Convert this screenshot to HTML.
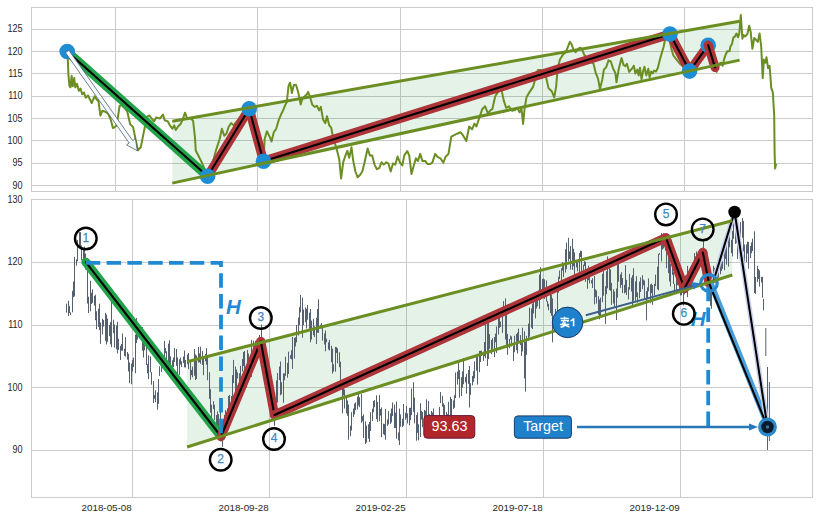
<!DOCTYPE html><html><head><meta charset="utf-8"><style>html,body{margin:0;padding:0;background:#fff;}body{width:819px;height:520px;overflow:hidden;position:relative;font-family:"Liberation Sans",sans-serif;}svg text{font-family:"Liberation Sans",sans-serif;}</style></head><body><svg width="819" height="520" viewBox="0 0 819 520" style="position:absolute;left:0;top:0">
<defs><clipPath id="ct"><rect x="31.5" y="7.3" width="781" height="184"/></clipPath><clipPath id="cb"><rect x="31.5" y="199.5" width="781" height="297.8"/></clipPath></defs>
<rect x="0" y="0" width="819" height="520" fill="#ffffff"/>
<line x1="31" y1="29.5" x2="813" y2="29.5" stroke="#cbcbcb" stroke-width="1"/>
<text transform="translate(22.6,32.4) scale(0.92,1.04)" text-anchor="end" font-size="9.8" fill="#262626">125</text>
<line x1="31" y1="51.5" x2="813" y2="51.5" stroke="#cbcbcb" stroke-width="1"/>
<text transform="translate(22.6,54.7) scale(0.92,1.04)" text-anchor="end" font-size="9.8" fill="#262626">120</text>
<line x1="31" y1="73.5" x2="813" y2="73.5" stroke="#cbcbcb" stroke-width="1"/>
<text transform="translate(22.6,77.0) scale(0.92,1.04)" text-anchor="end" font-size="9.8" fill="#262626">115</text>
<line x1="31" y1="96.5" x2="813" y2="96.5" stroke="#cbcbcb" stroke-width="1"/>
<text transform="translate(22.6,99.3) scale(0.92,1.04)" text-anchor="end" font-size="9.8" fill="#262626">110</text>
<line x1="31" y1="118.5" x2="813" y2="118.5" stroke="#cbcbcb" stroke-width="1"/>
<text transform="translate(22.6,121.7) scale(0.92,1.04)" text-anchor="end" font-size="9.8" fill="#262626">105</text>
<line x1="31" y1="140.5" x2="813" y2="140.5" stroke="#cbcbcb" stroke-width="1"/>
<text transform="translate(22.6,144.0) scale(0.92,1.04)" text-anchor="end" font-size="9.8" fill="#262626">100</text>
<line x1="31" y1="163.5" x2="813" y2="163.5" stroke="#cbcbcb" stroke-width="1"/>
<text transform="translate(22.6,166.3) scale(0.92,1.04)" text-anchor="end" font-size="9.8" fill="#262626">95</text>
<line x1="31" y1="185.5" x2="813" y2="185.5" stroke="#cbcbcb" stroke-width="1"/>
<text transform="translate(22.6,188.6) scale(0.92,1.04)" text-anchor="end" font-size="9.8" fill="#262626">90</text>
<line x1="115.5" y1="7" x2="115.5" y2="192" stroke="#cbcbcb" stroke-width="1"/>
<line x1="257.5" y1="7" x2="257.5" y2="192" stroke="#cbcbcb" stroke-width="1"/>
<line x1="400.5" y1="7" x2="400.5" y2="192" stroke="#cbcbcb" stroke-width="1"/>
<line x1="542.5" y1="7" x2="542.5" y2="192" stroke="#cbcbcb" stroke-width="1"/>
<line x1="684.5" y1="7" x2="684.5" y2="192" stroke="#cbcbcb" stroke-width="1"/>
<rect x="31.5" y="7.5" width="781" height="184" fill="none" stroke="#cbcbcb" stroke-width="1"/>
<g clip-path="url(#ct)">
<polygon points="172.3,121.2 739.6,21.2 739.6,60.1 172.3,183.1" fill="rgb(10,130,30)" fill-opacity="0.105"/>
<polyline points="67.2,51.5 67.8,59.0 68.4,74.6 69.5,86.2 70.5,87.3 71.6,75.8 72.8,86.2 74.2,78.1 75.3,87.3 77.0,83.8 78.8,90.8 80.5,88.5 82.2,94.2 84.0,92.5 85.7,97.7 88.0,95.4 89.8,99.2 91.7,103.0 94.6,96.3 96.5,99.2 98.5,101.2 100.4,115.6 102.3,110.8 105.2,111.7 108.1,113.7 111.0,120.4 112.9,128.1 114.8,127.1 116.7,125.2 119.6,106.0 121.5,105.0 124.5,108.0 127.3,111.7 130.2,124.2 133.1,127.1 136.0,141.5 137.9,150.2 140.8,147.3 144.6,128.1 147.5,116.5 149.4,115.6 152.0,119.0 154.2,121.3 156.2,117.5 160.0,118.5 162.9,114.6 164.8,120.4 167.7,121.3 170.0,125.4 172.3,128.8 174.2,125.4 175.8,130.0 178.1,126.5 180.4,124.2 182.7,119.6 185.0,112.7 187.3,118.5 190.8,118.5 193.1,120.8 194.9,136.9 195.8,150.8 197.7,154.2 200.0,158.9 202.3,163.5 204.6,169.2 207.6,176.3 212.0,165.0 216.2,149.6 219.6,139.2 221.9,128.8 224.2,135.8 226.5,133.5 228.8,126.5 231.2,123.1 233.5,125.4 238.0,120.0 243.0,114.0 249.2,108.8 255.0,130.0 260.0,150.0 263.5,161.2 264.6,139.2 266.9,131.2 269.7,136.9 271.5,141.5 273.8,132.3 276.2,128.8 278.5,120.8 280.8,115.0 283.1,110.4 285.4,104.6 286.8,102.3 288.5,86.2 290.1,82.7 291.9,93.1 293.8,85.0 296.1,85.0 298.4,93.1 300.7,104.6 302.3,98.8 304.6,96.5 306.9,94.2 308.1,91.9 309.9,96.5 312.2,104.6 314.5,106.9 316.8,105.8 319.2,110.4 320.8,106.9 323.1,119.6 325.4,123.1 327.0,116.2 329.3,125.4 331.2,127.7 333.5,139.2 336.2,147.3 339.2,158.9 341.1,178.5 343.2,162.3 345.5,155.4 347.3,150.8 349.2,157.7 351.5,147.3 353.1,160.0 355.4,171.5 357.7,177.3 360.0,175.0 362.3,171.5 364.6,162.3 367.6,148.5 369.9,155.4 372.2,155.4 374.5,164.6 376.9,169.2 379.2,168.1 381.5,162.3 383.8,164.6 386.5,162.3 388.4,163.5 390.7,171.5 393.0,163.5 395.3,164.6 397.6,156.5 399.9,162.3 402.3,165.5 404.3,155.4 407.2,151.0 409.2,155.4 411.5,174.1 413.8,165.5 415.9,158.3 417.9,161.1 420.2,153.9 422.5,161.1 425.4,161.1 427.4,164.0 430.3,164.0 432.3,162.6 435.2,153.9 437.5,156.8 440.4,158.3 443.3,162.6 445.6,156.8 448.5,153.9 451.3,136.6 454.2,135.2 457.1,133.7 460.6,132.3 462.9,135.2 466.3,141.0 469.2,126.5 472.1,129.4 474.4,123.6 476.4,126.5 479.3,117.9 482.2,109.2 485.1,106.3 488.0,113.6 490.0,110.7 492.3,109.2 495.2,96.2 498.1,91.9 501.0,87.6 503.8,100.6 506.1,107.8 509.0,106.3 511.9,110.7 515.0,110.0 517.3,107.7 519.6,112.3 521.5,108.9 523.1,123.9 524.7,107.7 526.5,97.3 528.4,93.9 530.7,90.4 533.0,86.9 534.6,81.2 535.8,74.2 538.0,70.0 541.0,70.0 543.5,72.0 546.2,77.7 548.5,88.1 551.9,91.5 554.2,97.3 556.1,86.9 557.7,68.5 560.0,59.2 563.0,54.6 565.8,52.3 567.6,47.7 569.9,41.9 571.5,44.2 573.2,48.8 575.5,52.3 577.3,50.0 579.6,47.7 581.9,48.8 584.2,54.6 588.0,60.0 593.5,63.8 595.8,73.1 598.1,78.8 599.9,89.2 602.2,80.0 603.9,69.6 606.2,67.3 608.5,60.4 610.8,61.5 613.1,68.5 615.4,73.1 616.5,82.3 618.4,70.8 620.0,63.8 621.6,58.1 623.5,65.0 625.3,66.2 626.9,63.8 629.2,71.9 631.9,68.7 633.8,65.8 635.4,73.5 637.3,69.6 638.7,75.4 640.0,67.7 641.5,79.2 643.1,71.5 644.4,66.7 646.3,75.4 648.3,68.7 649.6,77.3 651.2,71.5 652.7,73.5 654.0,70.6 656.0,71.5 657.9,67.7 659.8,60.0 661.7,53.3 663.7,46.5 665.0,39.8 668.0,33.0 671.3,48.5 673.3,55.2 674.6,57.1 680.0,64.0 689.6,71.2 700.0,52.0 707.9,45.2 712.0,60.0 714.6,67.0 716.5,71.9 718.1,66.5 719.6,63.5 721.2,62.7 722.7,65.8 724.2,58.8 725.8,54.2 727.3,51.2 729.6,51.2 730.4,46.5 731.9,44.2 733.5,37.3 735.0,36.5 736.5,33.5 738.1,37.3 739.3,33.5 740.8,15.0 742.4,38.8 743.5,35.0 745.0,36.5 747.3,34.2 749.2,25.8 750.7,31.9 752.4,48.8 754.2,38.1 755.8,39.6 757.8,41.9 759.6,33.5 761.2,46.5 762.7,78.1 763.9,59.6 765.5,62.7 766.5,57.3 768.1,68.1 769.6,65.8 770.7,80.4 771.2,87.7 772.8,92.3 774.2,115.4 774.6,152.3 775.1,168.5 775.8,165.0 776.5,163.8" fill="none" stroke="#6b8e23" stroke-width="2" stroke-linejoin="round"/>
<line x1="67.2" y1="51.5" x2="207.6" y2="176.3" stroke="#22a34a" stroke-width="9" stroke-linecap="round"/>
<line x1="67.2" y1="51.5" x2="207.6" y2="176.3" stroke="#000" stroke-width="2.1" stroke-linecap="round"/>
<line x1="207.6" y1="176.3" x2="249.2" y2="108.8" stroke="#ad353a" stroke-width="9.2" stroke-linecap="round"/>
<line x1="207.6" y1="176.3" x2="249.2" y2="108.8" stroke="#000" stroke-width="2.1" stroke-linecap="round"/>
<line x1="249.2" y1="108.8" x2="263.5" y2="161.2" stroke="#ad353a" stroke-width="9.2" stroke-linecap="round"/>
<line x1="249.2" y1="108.8" x2="263.5" y2="161.2" stroke="#000" stroke-width="2.1" stroke-linecap="round"/>
<line x1="263.5" y1="161.2" x2="670" y2="34.1" stroke="#ad353a" stroke-width="9.2" stroke-linecap="round"/>
<line x1="263.5" y1="161.2" x2="670" y2="34.1" stroke="#000" stroke-width="2.1" stroke-linecap="round"/>
<line x1="670" y1="34.1" x2="689.6" y2="71.1" stroke="#ad353a" stroke-width="9.2" stroke-linecap="round"/>
<line x1="670" y1="34.1" x2="689.6" y2="71.1" stroke="#000" stroke-width="2.1" stroke-linecap="round"/>
<line x1="689.6" y1="71.1" x2="708.2" y2="45.2" stroke="#ad353a" stroke-width="9.2" stroke-linecap="round"/>
<line x1="689.6" y1="71.1" x2="708.2" y2="45.2" stroke="#000" stroke-width="2.1" stroke-linecap="round"/>
<circle cx="67.2" cy="51.5" r="7.8" fill="#1f8dd4"/>
<circle cx="207.6" cy="176.3" r="7.8" fill="#1f8dd4"/>
<circle cx="249.2" cy="108.8" r="7.8" fill="#1f8dd4"/>
<circle cx="263.5" cy="161.2" r="7.8" fill="#1f8dd4"/>
<circle cx="670" cy="34.1" r="7.8" fill="#1f8dd4"/>
<circle cx="689.6" cy="71.1" r="7.8" fill="#1f8dd4"/>
<circle cx="708.2" cy="45.2" r="7.8" fill="#1f8dd4"/>
<line x1="708.2" y1="45.2" x2="715.0" y2="67.5" stroke="#ad353a" stroke-width="9.2" stroke-linecap="round"/>
<line x1="708.2" y1="45.2" x2="715.0" y2="67.5" stroke="#000" stroke-width="2.1" stroke-linecap="round"/>
<line x1="172.3" y1="121.2" x2="739.6" y2="21.2" stroke="#6b8e23" stroke-width="3"/>
<line x1="172.3" y1="183.1" x2="739.6" y2="60.1" stroke="#6b8e23" stroke-width="3"/>
<polygon points="65.5,52.7 129.2,143.0 126.5,144.9 137.3,150.8 135.4,138.7 132.7,140.6 68.9,50.3" fill="#f4f9ff" stroke="#3c4a5a" stroke-width="0.7"/>
</g>
<text transform="translate(22.6,202.6) scale(0.92,1.04)" text-anchor="end" font-size="9.8" fill="#262626">130</text>
<line x1="31" y1="262.5" x2="813" y2="262.5" stroke="#cbcbcb" stroke-width="1"/>
<text transform="translate(22.6,265.3) scale(0.92,1.04)" text-anchor="end" font-size="9.8" fill="#262626">120</text>
<line x1="31" y1="325.5" x2="813" y2="325.5" stroke="#cbcbcb" stroke-width="1"/>
<text transform="translate(22.6,327.9) scale(0.92,1.04)" text-anchor="end" font-size="9.8" fill="#262626">110</text>
<line x1="31" y1="387.5" x2="813" y2="387.5" stroke="#cbcbcb" stroke-width="1"/>
<text transform="translate(22.6,390.6) scale(0.92,1.04)" text-anchor="end" font-size="9.8" fill="#262626">100</text>
<line x1="31" y1="450.5" x2="813" y2="450.5" stroke="#cbcbcb" stroke-width="1"/>
<text transform="translate(22.6,453.2) scale(0.92,1.04)" text-anchor="end" font-size="9.8" fill="#262626">90</text>
<line x1="132.5" y1="199" x2="132.5" y2="498" stroke="#cbcbcb" stroke-width="1"/>
<text transform="translate(131.7,511.0) scale(1,1)" text-anchor="end" font-size="9.8" fill="#262626">2018-05-08</text>
<line x1="269.5" y1="199" x2="269.5" y2="498" stroke="#cbcbcb" stroke-width="1"/>
<text transform="translate(268.7,511.0) scale(1,1)" text-anchor="end" font-size="9.8" fill="#262626">2018-09-28</text>
<line x1="406.5" y1="199" x2="406.5" y2="498" stroke="#cbcbcb" stroke-width="1"/>
<text transform="translate(405.7,511.0) scale(1,1)" text-anchor="end" font-size="9.8" fill="#262626">2019-02-25</text>
<line x1="543.5" y1="199" x2="543.5" y2="498" stroke="#cbcbcb" stroke-width="1"/>
<text transform="translate(542.7,511.0) scale(1,1)" text-anchor="end" font-size="9.8" fill="#262626">2019-07-18</text>
<line x1="680.5" y1="199" x2="680.5" y2="498" stroke="#cbcbcb" stroke-width="1"/>
<text transform="translate(679.7,511.0) scale(1,1)" text-anchor="end" font-size="9.8" fill="#262626">2019-12-09</text>
<rect x="31.5" y="199.5" width="781" height="298" fill="none" stroke="#cbcbcb" stroke-width="1"/>
<g clip-path="url(#cb)">
<polygon points="187.1,361.7 732.3,220.8 732.3,275.0 187.1,447.0" fill="rgb(10,130,30)" fill-opacity="0.105"/>
<path d="M66.5 303.7V312.6M68.5 300.7V316.1M69.5 306.2V313.0M70.5 312.4V315.1M72.5 290.8V312.3M73.5 281.4V297.1M74.5 256.8V296.4M76.5 259.4V265.7M77.5 240.0V261.2M79.5 232.1V247.3M80.5 232.1V248.9M81.5 245.4V260.2M83.5 248.0V263.7M84.5 246.7V262.3M85.5 253.5V269.6M87.5 261.0V303.5M88.5 296.7V313.0M90.5 280.7V311.4M91.5 292.8V304.0M92.5 289.4V302.9M94.5 295.9V305.6M95.5 294.7V320.2M96.5 311.2V329.3M98.5 308.6V326.9M99.5 303.7V330.1M100.5 322.5V343.8M102.5 318.9V334.4M103.5 319.9V326.6M105.5 312.8V340.9M106.5 314.5V344.4M107.5 318.5V341.8M109.5 324.9V336.1M110.5 322.1V344.3M111.5 299.7V347.1M113.5 319.7V333.1M114.5 324.5V347.5M116.5 325.6V349.3M117.5 321.8V353.4M118.5 338.9V349.9M120.5 345.8V360.0M121.5 343.9V350.7M122.5 333.5V350.8M124.5 348.7V355.9M125.5 337.1V356.6M127.5 352.0V359.6M128.5 353.8V371.4M129.5 362.5V383.2M131.5 363.7V384.2M132.5 359.9V371.4M133.5 357.5V367.1M135.5 334.6V373.3M136.5 318.1V343.1M137.5 327.5V339.6M139.5 326.8V338.0M140.5 333.0V338.8M142.5 327.1V350.7M143.5 337.0V357.6M144.5 344.6V350.3M146.5 341.8V365.0M147.5 364.1V373.3M148.5 355.4V379.0M150.5 356.4V372.3M151.5 372.0V384.7M153.5 381.1V403.1M154.5 395.1V398.7M155.5 390.2V402.2M157.5 392.3V409.8M158.5 379.1V403.9M159.5 366.3V375.9M161.5 361.1V372.1M162.5 358.1V362.7M164.5 341.0V362.9M165.5 348.0V353.1M166.5 351.3V361.6M168.5 343.6V363.7M169.5 340.3V363.3M170.5 356.3V366.4M172.5 360.3V373.9M173.5 357.5V367.2M174.5 348.0V362.0M176.5 349.0V365.9M177.5 357.4V379.2M179.5 359.3V374.9M180.5 357.6V364.6M181.5 361.3V367.0M183.5 356.5V363.1M184.5 350.5V367.4M185.5 360.0V367.5M187.5 354.5V364.2M188.5 353.0V369.2M190.5 362.0V379.7M191.5 369.9V375.2M192.5 366.5V377.3M194.5 349.0V375.8M195.5 354.4V380.0M196.5 355.6V379.0M198.5 347.0V362.8M199.5 353.4V362.2M200.5 346.7V363.8M202.5 350.9V365.0M203.5 355.9V375.2M205.5 354.1V361.3M206.5 348.2V364.7M207.5 357.4V380.2M209.5 372.2V398.9M210.5 389.2V412.6M211.5 404.7V423.0M213.5 401.2V409.1M214.5 404.7V419.9M216.5 415.0V424.9M217.5 411.4V432.6M218.5 414.1V436.4M220.5 406.3V441.5M221.5 431.0V441.3M222.5 424.1V446.9M224.5 414.9V429.9M225.5 410.2V423.8M227.5 408.3V421.7M228.5 395.9V409.2M229.5 395.1V408.9M231.5 396.0V414.0M232.5 375.1V408.4M233.5 359.9V383.1M235.5 366.6V392.1M236.5 369.6V391.3M237.5 372.4V378.6M239.5 373.2V386.5M240.5 365.8V384.1M242.5 358.9V371.4M243.5 352.0V366.0M244.5 351.0V372.0M246.5 366.1V387.4M247.5 350.0V378.0M248.5 353.6V362.2M250.5 363.8V375.3M251.5 339.9V376.9M253.5 340.7V354.3M254.5 346.5V360.6M255.5 340.7V351.1M257.5 341.0V350.8M258.5 341.6V353.8M259.5 334.8V354.1M261.5 324.6V350.9M262.5 346.5V359.6M263.5 352.5V368.7M265.5 359.1V371.0M266.5 355.3V379.8M268.5 371.9V380.1M269.5 372.6V394.2M270.5 376.7V399.8M272.5 391.2V419.7M273.5 392.7V418.5M274.5 398.7V425.9M276.5 380.4V407.8M277.5 373.0V402.5M279.5 366.5V380.1M280.5 361.5V395.3M281.5 382.2V394.4M283.5 373.4V402.9M284.5 373.4V380.2M285.5 356.7V375.8M287.5 362.9V377.7M288.5 351.6V374.0M290.5 355.2V358.7M291.5 350.2V359.3M292.5 336.9V368.9M294.5 337.8V358.6M295.5 337.2V346.5M296.5 325.0V342.4M298.5 317.5V335.6M299.5 307.2V325.2M300.5 295.0V312.4M302.5 297.6V337.8M303.5 309.5V325.2M305.5 307.4V322.3M306.5 308.9V328.5M307.5 305.1V319.7M309.5 312.7V329.5M310.5 308.9V342.3M311.5 320.6V339.6M313.5 318.9V335.2M314.5 326.2V337.1M316.5 317.8V344.0M317.5 309.0V332.7M318.5 299.3V332.9M320.5 324.7V328.5M321.5 323.0V328.4M322.5 326.2V340.6M324.5 333.6V344.5M325.5 330.4V351.3M326.5 338.6V342.2M328.5 342.3V349.5M329.5 339.9V350.5M331.5 345.8V362.1M332.5 348.7V373.5M333.5 364.3V371.6M335.5 346.9V371.7M336.5 347.2V353.0M337.5 348.2V363.3M339.5 352.3V367.2M340.5 361.7V385.1M342.5 381.0V413.3M343.5 384.7V395.4M344.5 389.5V408.5M346.5 395.2V413.4M347.5 400.4V415.8M348.5 404.5V439.7M350.5 425.7V436.2M351.5 412.2V430.5M353.5 408.5V417.0M354.5 403.6V414.5M355.5 402.3V410.1M357.5 396.5V409.4M358.5 392.1V405.6M359.5 397.2V407.2M361.5 394.0V422.8M362.5 416.1V421.3M363.5 414.3V438.0M365.5 421.4V444.1M366.5 425.6V442.7M368.5 424.3V438.7M369.5 422.0V442.0M370.5 412.3V431.0M372.5 408.7V421.1M373.5 401.0V412.2M374.5 400.1V407.3M376.5 395.3V419.1M377.5 401.9V421.8M379.5 394.9V421.2M380.5 408.9V415.6M381.5 407.4V437.2M383.5 423.7V434.2M384.5 423.9V435.2M385.5 409.0V439.8M387.5 419.4V426.0M388.5 411.0V424.4M390.5 413.4V423.9M391.5 408.5V422.4M392.5 402.4V416.1M394.5 404.5V428.2M395.5 412.7V428.1M396.5 401.6V438.7M398.5 432.4V440.4M399.5 408.5V445.1M400.5 414.4V426.7M402.5 418.8V427.1M403.5 404.0V425.7M405.5 412.7V419.8M406.5 405.9V417.9M407.5 413.4V423.4M409.5 407.9V425.2M410.5 407.8V420.2M411.5 388.6V415.1M413.5 382.2V411.9M414.5 397.6V423.4M416.5 414.9V440.7M417.5 412.4V432.9M418.5 424.3V440.3M420.5 403.2V437.0M421.5 410.9V419.6M422.5 412.0V427.2M424.5 409.9V423.7M425.5 410.7V428.6M426.5 399.4V419.9M428.5 400.9V429.6M429.5 413.9V420.4M431.5 410.9V420.1M432.5 412.5V426.2M433.5 408.4V426.3M435.5 415.0V426.8M436.5 422.6V424.1M437.5 417.1V427.2M439.5 407.0V438.1M440.5 392.1V403.1M442.5 395.9V406.7M443.5 403.4V414.8M444.5 404.9V417.1M446.5 411.9V422.9M447.5 414.2V431.7M448.5 401.8V435.9M450.5 396.8V424.8M451.5 399.0V419.7M453.5 400.5V408.9M454.5 395.2V407.8M455.5 372.5V398.1M457.5 371.6V384.5M458.5 360.4V379.1M459.5 370.1V397.7M461.5 377.2V396.1M462.5 371.3V387.8M463.5 358.2V384.2M465.5 376.9V382.5M466.5 373.8V393.7M468.5 370.0V383.9M469.5 365.9V407.5M470.5 383.2V394.9M472.5 375.9V385.3M473.5 371.2V381.9M474.5 361.3V378.3M476.5 356.9V370.7M477.5 354.9V384.6M479.5 350.9V372.2M480.5 350.9V362.0M481.5 350.7V356.0M483.5 351.6V360.9M484.5 342.0V356.2M485.5 319.7V358.2M487.5 323.3V366.0M488.5 319.0V359.1M489.5 334.2V348.7M491.5 339.9V354.3M492.5 338.2V348.8M494.5 337.0V357.1M495.5 333.6V342.3M496.5 326.5V352.9M498.5 311.4V334.5M499.5 315.6V327.9M500.5 321.6V327.0M502.5 309.4V332.9M503.5 301.1V313.3M505.5 298.4V339.5M506.5 315.1V346.7M507.5 333.9V354.9M509.5 339.0V348.3M510.5 335.5V339.6M511.5 336.4V346.5M513.5 345.5V360.9M514.5 335.7V352.2M516.5 334.0V350.2M517.5 332.5V353.5M518.5 328.6V341.9M520.5 335.1V345.1M521.5 343.1V355.9M522.5 327.7V351.4M524.5 331.4V378.4M525.5 341.8V391.7M526.5 335.9V354.8M528.5 323.6V340.2M529.5 307.7V336.7M531.5 308.4V327.8M532.5 303.7V329.0M533.5 298.3V313.4M535.5 298.4V318.4M536.5 294.4V308.6M537.5 292.5V306.3M539.5 274.6V308.9M540.5 267.2V299.9M542.5 279.0V291.7M543.5 278.4V296.6M544.5 279.4V298.9M546.5 280.5V301.6M547.5 301.1V306.6M548.5 303.8V310.3M550.5 290.5V313.1M551.5 294.8V315.7M552.5 298.4V342.3M554.5 318.6V322.7M555.5 308.9V323.9M557.5 290.4V334.1M558.5 276.8V292.6M559.5 270.5V279.1M561.5 268.2V281.8M562.5 262.1V270.6M563.5 264.4V277.2M565.5 249.3V272.6M566.5 242.5V269.1M568.5 237.8V261.4M569.5 251.4V258.9M570.5 245.9V269.5M572.5 238.8V269.9M573.5 248.7V266.3M574.5 252.4V277.2M576.5 260.1V267.3M577.5 261.6V271.4M579.5 253.2V272.3M580.5 250.6V257.1M581.5 251.0V273.1M583.5 264.7V273.7M584.5 261.2V266.1M585.5 261.8V281.8M587.5 269.4V288.8M588.5 265.8V280.2M589.5 270.9V283.4M591.5 280.2V283.4M592.5 278.2V288.0M594.5 276.0V304.4M595.5 289.4V297.1M596.5 290.4V303.5M598.5 296.2V314.7M599.5 299.5V319.3M600.5 297.6V316.4M602.5 273.7V302.2M603.5 270.3V295.7M605.5 286.2V323.9M606.5 271.2V294.2M607.5 256.4V288.3M609.5 263.8V290.1M610.5 269.4V290.9M611.5 282.8V304.9M613.5 289.3V303.6M614.5 291.5V307.7M616.5 288.6V320.0M617.5 264.7V297.7M618.5 263.7V281.7M620.5 274.4V287.9M621.5 272.2V285.0M622.5 278.0V293.0M624.5 284.9V293.4M625.5 265.2V292.5M626.5 279.8V295.0M628.5 287.2V299.4M629.5 273.9V289.6M631.5 277.7V291.5M632.5 275.2V305.1M633.5 268.2V300.8M635.5 281.3V300.7M636.5 276.2V297.0M637.5 292.4V302.7M639.5 281.6V298.3M640.5 277.4V292.0M642.5 275.2V289.2M643.5 279.5V285.3M644.5 280.6V298.0M646.5 291.1V320.4M647.5 287.3V299.2M648.5 278.4V291.3M650.5 284.4V303.3M651.5 283.6V293.1M652.5 285.0V304.8M654.5 283.8V295.5M655.5 274.6V286.1M657.5 266.7V289.3M658.5 253.9V290.4M659.5 253.1V254.7M661.5 233.1V261.4M662.5 235.9V249.5M663.5 233.2V248.5M665.5 237.1V250.7M666.5 239.9V268.2M668.5 253.6V273.1M669.5 253.1V281.5M670.5 264.1V286.4M672.5 260.3V274.9M673.5 272.1V283.9M674.5 283.7V291.1M676.5 276.6V291.9M677.5 262.3V285.2M679.5 273.3V288.8M680.5 279.6V295.5M681.5 284.3V295.2M683.5 285.7V305.5M684.5 281.2V294.3M685.5 275.3V290.1M687.5 265.9V297.1M688.5 282.6V289.8M689.5 275.3V283.7M691.5 269.4V287.9M692.5 268.6V276.9M694.5 253.0V276.6M695.5 256.5V264.9M696.5 251.4V268.3M698.5 251.2V266.2M699.5 251.0V258.3M700.5 250.8V259.5M702.5 247.6V258.8M703.5 240.0V262.3M705.5 258.3V265.1M706.5 256.8V271.5M707.5 267.6V284.0M709.5 276.5V285.1M710.5 285.0V305.8M711.5 283.9V308.8M713.5 265.9V288.8M714.5 267.9V283.1M715.5 273.5V283.3M717.5 270.1V283.2M718.5 265.2V277.5M720.5 264.0V274.3M721.5 247.8V270.9M722.5 261.3V268.8M724.5 249.1V270.2M725.5 241.1V258.9M726.5 240.6V264.7M728.5 225.5V266.6M729.5 226.1V247.3M731.5 239.8V253.1M732.5 230.8V256.4M733.5 210.8V238.8M735.5 210.8V243.9M736.5 234.7V243.1M737.5 233.4V259.1M739.5 242.2V253.9M740.5 222.1V256.0M742.5 218.1V237.8M743.5 220.9V251.4M744.5 244.5V263.2M746.5 244.4V262.2M747.5 241.7V253.6M748.5 241.9V268.6M750.5 246.0V258.1M751.5 242.4V253.2M752.5 238.7V251.0M754.5 231.4V293.1M755.5 277.0V293.9M757.5 265.8V282.0M758.5 269.0V279.0M759.5 270.4V286.6M761.5 276.9V282.5M762.5 276.9V297.7M763.5 298.9V310.4M765.8 328V356M767.5 367V450M769.4 382V441" stroke="#566170" stroke-width="1.0" fill="none"/>
<line x1="85.8" y1="262.1" x2="221" y2="436.5" stroke="#22a34a" stroke-width="9" stroke-linecap="round"/>
<line x1="85.8" y1="262.1" x2="221" y2="436.5" stroke="#000" stroke-width="2.1" stroke-linecap="round"/>
<line x1="221" y1="436.5" x2="260.8" y2="341.5" stroke="#ad353a" stroke-width="9.2" stroke-linecap="round"/>
<line x1="221" y1="436.5" x2="260.8" y2="341.5" stroke="#000" stroke-width="2.1" stroke-linecap="round"/>
<line x1="260.8" y1="341.5" x2="274.5" y2="415" stroke="#ad353a" stroke-width="9.2" stroke-linecap="round"/>
<line x1="260.8" y1="341.5" x2="274.5" y2="415" stroke="#000" stroke-width="2.1" stroke-linecap="round"/>
<line x1="274.5" y1="415" x2="666" y2="237.8" stroke="#ad353a" stroke-width="9.2" stroke-linecap="round"/>
<line x1="274.5" y1="415" x2="666" y2="237.8" stroke="#000" stroke-width="2.1" stroke-linecap="round"/>
<line x1="666" y1="237.8" x2="684.5" y2="288.5" stroke="#ad353a" stroke-width="9.2" stroke-linecap="round"/>
<line x1="666" y1="237.8" x2="684.5" y2="288.5" stroke="#000" stroke-width="2.1" stroke-linecap="round"/>
<line x1="684.5" y1="288.5" x2="702.8" y2="252.5" stroke="#ad353a" stroke-width="9.2" stroke-linecap="round"/>
<line x1="684.5" y1="288.5" x2="702.8" y2="252.5" stroke="#000" stroke-width="2.1" stroke-linecap="round"/>
<line x1="702.8" y1="252.5" x2="709" y2="283" stroke="#ad353a" stroke-width="9.2" stroke-linecap="round"/>
<line x1="702.8" y1="252.5" x2="709" y2="283" stroke="#000" stroke-width="2.1" stroke-linecap="round"/>
<polyline points="85.8,262.8 221,262.8 221,437" fill="none" stroke="#1f8ad2" stroke-width="3.8" stroke-dasharray="14.5,6.3"/>
<line x1="708.2" y1="426" x2="708.2" y2="284" stroke="#1f8ad2" stroke-width="3.8" stroke-dasharray="14.5,6.3"/>
<text x="226" y="314" font-size="20.5" font-weight="bold" font-style="italic" fill="#1f8ad2">H</text>
<text x="690.8" y="325.6" font-size="20.5" font-weight="bold" font-style="italic" fill="#1f8ad2">H</text>
<line x1="710.6" y1="283" x2="768.5" y2="427" stroke="#4b9fd8" stroke-width="6"/>
<polyline points="713.2,282 734.6,212 767.5,427" fill="none" stroke="#c8d0ee" stroke-width="5"/>
<polyline points="713.2,282 734.6,212 767.5,427" fill="none" stroke="#000" stroke-width="2"/>
<line x1="709" y1="283" x2="767.5" y2="427" stroke="#000" stroke-width="2"/>
<circle cx="734.6" cy="212" r="6.3" fill="#000"/>
<circle cx="709" cy="283" r="8.3" fill="none" stroke="#2a88cc" stroke-width="3.2"/>
<circle cx="767.5" cy="427" r="7.8" fill="#0a1a2a" stroke="#2a88cc" stroke-width="3.2"/>
<circle cx="767.5" cy="427" r="1.8" fill="#3a7090"/>
<line x1="187.1" y1="361.7" x2="732.3" y2="220.8" stroke="#6b8e23" stroke-width="3"/>
<line x1="187.1" y1="447.0" x2="732.3" y2="275.0" stroke="#6b8e23" stroke-width="3"/>
<line x1="585.8" y1="315.3" x2="694" y2="285.6" stroke="#3d5f8c" stroke-width="2"/>
<polygon points="691.5,282 701.5,283.6 693.5,289.6" fill="#2a80c8"/>
</g>
<circle cx="85.8" cy="238.5" r="10.8" fill="none" stroke="#000" stroke-width="2.4"/>
<text x="85.8" y="241.8" text-anchor="middle" font-size="12" fill="#3d89c2" stroke="#3d89c2" stroke-width="0.25">1</text>
<circle cx="220.7" cy="459.7" r="10.8" fill="none" stroke="#000" stroke-width="2.4"/>
<text x="220.7" y="463.0" text-anchor="middle" font-size="12" fill="#3d89c2" stroke="#3d89c2" stroke-width="0.25">2</text>
<circle cx="260.8" cy="318" r="10.8" fill="none" stroke="#000" stroke-width="2.4"/>
<text x="260.8" y="321.3" text-anchor="middle" font-size="12" fill="#3d89c2" stroke="#3d89c2" stroke-width="0.25">3</text>
<circle cx="274" cy="439" r="10.8" fill="none" stroke="#000" stroke-width="2.4"/>
<text x="274" y="442.3" text-anchor="middle" font-size="12" fill="#3d89c2" stroke="#3d89c2" stroke-width="0.25">4</text>
<circle cx="666" cy="214.4" r="10.8" fill="none" stroke="#000" stroke-width="2.4"/>
<text x="666" y="217.7" text-anchor="middle" font-size="12" fill="#3d89c2" stroke="#3d89c2" stroke-width="0.25">5</text>
<circle cx="683.8" cy="313.8" r="10.8" fill="none" stroke="#000" stroke-width="2.4"/>
<text x="683.8" y="317.1" text-anchor="middle" font-size="12" fill="#3d89c2" stroke="#3d89c2" stroke-width="0.25">6</text>
<circle cx="702.7" cy="229.4" r="10.8" fill="none" stroke="#000" stroke-width="2.4"/>
<text x="702.7" y="232.7" text-anchor="middle" font-size="12" fill="#3d89c2" stroke="#3d89c2" stroke-width="0.25">7</text>
<rect x="423.8" y="415.6" width="51" height="22.6" rx="3.5" fill="#b0262a" stroke="#6a1a3a" stroke-width="1"/>
<text transform="translate(449.4,431.3) scale(0.93,1)" text-anchor="middle" font-size="15.5" fill="#ffffff">93.63</text>
<rect x="514.4" y="415.9" width="57" height="22.3" rx="3.5" fill="#1f80cc" stroke="#1a3a6a" stroke-width="1"/>
<text x="543" y="430.8" text-anchor="middle" font-size="14.3" fill="#ffffff">Target</text>
<line x1="577" y1="427" x2="750" y2="427" stroke="#2878b8" stroke-width="2.6"/>
<polygon points="749,423.6 758,427 749,430.4" fill="#2878b8"/>
<circle cx="567.6" cy="322.4" r="15.3" fill="#1f80cc" stroke="#1a3a6a" stroke-width="1"/>
<g transform="translate(559.6,316.8)" stroke="#fff" stroke-width="1.45" fill="none" stroke-linecap="butt"><path d="M5 0V2.6 M0.8 1.6H9.2 M1.2 3.8H8.6L7.9 5.2 M3.2 4.9L4.3 5.7 M2.7 6.4L3.8 7.2 M0.3 7.7H9.7 M5.3 5V7.6Q5.1 9.6 1 10.4 M5.8 8.6L9.8 10.4"/></g>
<path d="M573.6 318.2V326.3 M573.6 318.6Q572.6 320.2 570.6 320.9" stroke="#ffffff" stroke-width="1.6" fill="none"/>
</svg></body></html>
